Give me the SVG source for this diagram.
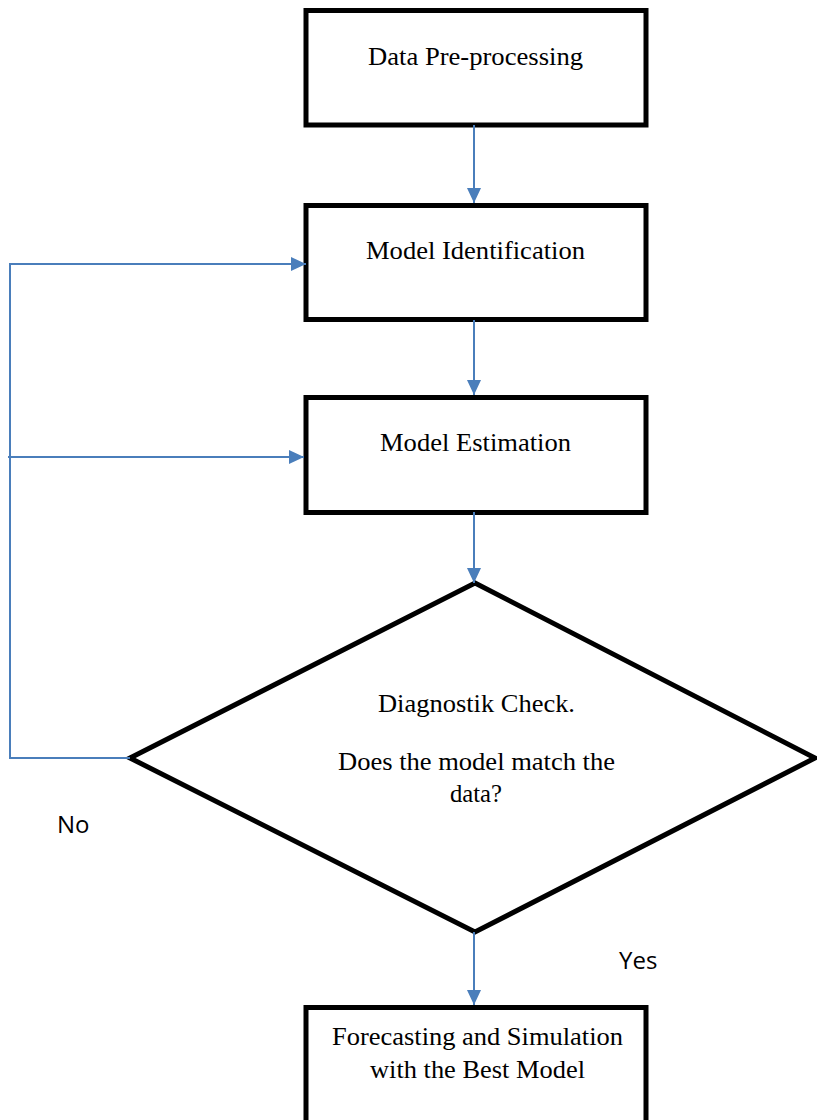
<svg xmlns="http://www.w3.org/2000/svg" width="817" height="1120" viewBox="0 0 817 1120">
<defs>
<style>
.box{fill:#fff;stroke:#000;stroke-width:5;stroke-linejoin:miter}
.lbl{font-family:"Liberation Serif","Times New Roman",serif;font-size:25px;fill:#000;text-anchor:middle}
.side{font-family:"Open Sans","Liberation Sans",sans-serif;font-size:24px;fill:#000}
.con{fill:none;stroke:#4a7ebb;stroke-width:2}
</style>
<marker id="ah" markerWidth="15" markerHeight="14" refX="15" refY="7" orient="auto" markerUnits="userSpaceOnUse">
<path d="M0,0 L15,7 L0,14 Z" fill="#4a7ebb"/>
</marker>
</defs>
<rect width="817" height="1120" fill="#fff"/>
<g id="n1">
<rect class="box" x="306" y="10.5" width="340" height="114.5"/>
<text class="lbl" x="475.5" y="65" textLength="215" lengthAdjust="spacingAndGlyphs">Data Pre-processing</text>
</g>
<g id="n2">
<rect class="box" x="306" y="205.5" width="340" height="114"/>
<text class="lbl" x="475.5" y="259" textLength="219" lengthAdjust="spacingAndGlyphs">Model Identification</text>
</g>
<g id="n3">
<rect class="box" x="306" y="397.5" width="340" height="115"/>
<text class="lbl" x="475.5" y="451" textLength="191" lengthAdjust="spacingAndGlyphs">Model Estimation</text>
</g>
<g id="n4">
<polygon class="box" points="475,583 815,758 475,932 130,758"/>
<text class="lbl" x="476.5" y="712" textLength="197" lengthAdjust="spacingAndGlyphs">Diagnostik Check.</text>
<text class="lbl" x="476.5" y="770" textLength="277" lengthAdjust="spacingAndGlyphs">Does the model match the</text>
<text class="lbl" x="476" y="802" textLength="52" lengthAdjust="spacingAndGlyphs">data?</text>
</g>
<g id="n5">
<path class="box" d="M306,1125 L306,1007.5 L646,1007.5 L646,1125"/>
<text class="lbl" x="477.5" y="1045" textLength="291" lengthAdjust="spacingAndGlyphs">Forecasting and Simulation</text>
<text class="lbl" x="477.5" y="1078" textLength="215" lengthAdjust="spacingAndGlyphs">with the Best Model</text>
</g>
<g id="connectors">
<line class="con" x1="474" y1="125" x2="474" y2="203" marker-end="url(#ah)"/>
<line class="con" x1="474" y1="320" x2="474" y2="395" marker-end="url(#ah)"/>
<line class="con" x1="474" y1="512" x2="474" y2="583" marker-end="url(#ah)"/>
<line class="con" x1="474" y1="932" x2="474" y2="1005" marker-end="url(#ah)"/>
<polyline class="con" points="130,758 10,758 10,264 306,264" marker-end="url(#ah)"/>
<line class="con" x1="8" y1="457" x2="304" y2="457" marker-end="url(#ah)"/>
</g>
<g id="labels">
<text class="side" x="57" y="833">No</text>
<text class="side" x="619" y="969">Yes</text>
</g>
</svg>
